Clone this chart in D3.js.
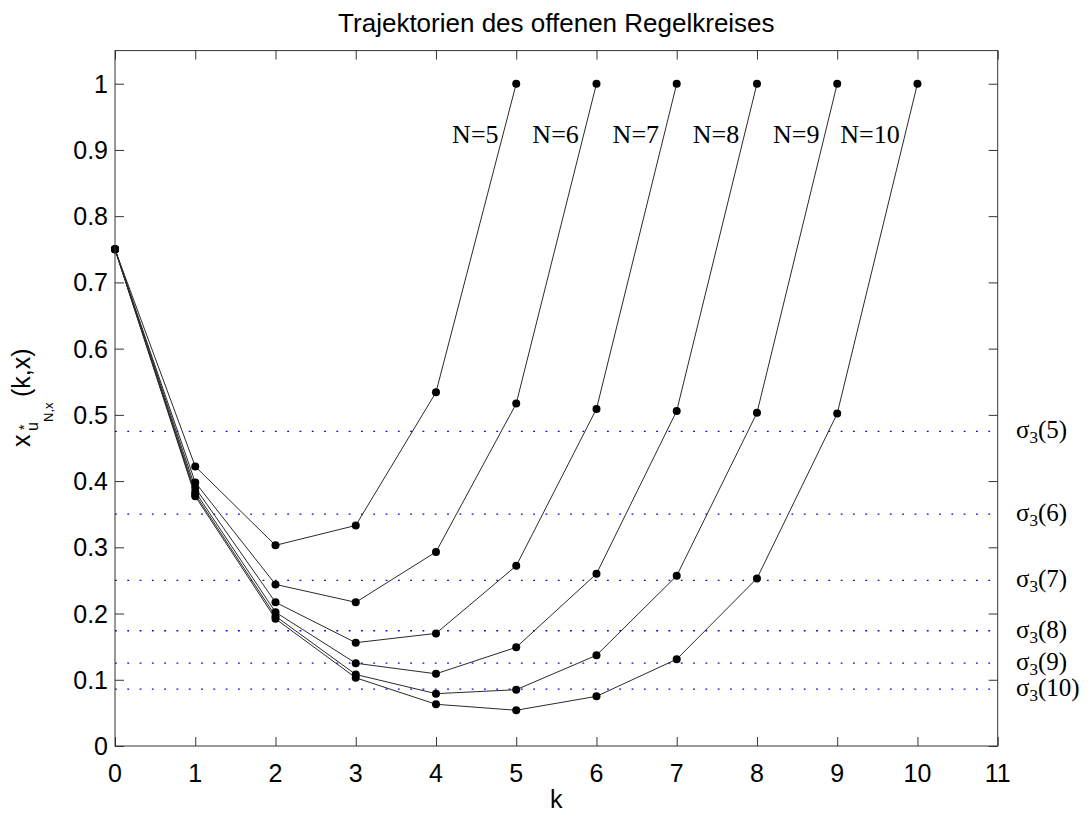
<!DOCTYPE html>
<html>
<head>
<meta charset="utf-8">
<script src="https://cdn.jsdelivr.net/npm/d3@7"></script>
<style>
  html, body { margin: 0; padding: 0; background: #fff; }
  svg { display: block; }
  .sans { font-family: Arial, "Liberation Sans", sans-serif; }
  .serif { font-family: "Times New Roman", "Liberation Serif", serif; }
</style>
</head>
<body>
<svg id="chart" width="1092" height="816"></svg>
<script>
// Open-loop trajectories x*_{u_N,x}(k,x) for horizons N = 5..10
const horizons = [5, 6, 7, 8, 9, 10];
const traj5  = [0.75, 0.422, 0.303, 0.333, 0.534, 1.0];
const traj6  = [0.75, 0.398, 0.244, 0.217, 0.293, 0.517, 1.0];
const traj7  = [0.75, 0.390, 0.217, 0.156, 0.170, 0.272, 0.509, 1.0];
const traj8  = [0.75, 0.384, 0.202, 0.125, 0.109, 0.149, 0.260, 0.506, 1.0];
const traj9  = [0.75, 0.380, 0.196, 0.108, 0.079, 0.085, 0.137, 0.257, 0.503, 1.0];
const traj10 = [0.75, 0.377, 0.192, 0.103, 0.063, 0.054, 0.075, 0.131, 0.253, 0.502, 1.0];
const trajectories = [traj5, traj6, traj7, traj8, traj9, traj10];

// Threshold levels sigma_3(N)
const sigmaLevels = [0.475, 0.350, 0.250, 0.174, 0.125, 0.086];

// Axis ticks
const xTicks = [0, 1, 2, 3, 4, 5, 6, 7, 8, 9, 10, 11];
const yTicks = [0, 0.1, 0.2, 0.3, 0.4, 0.5, 0.6, 0.7, 0.8, 0.9, 1];
const yTickLabels = ["0", "0.1", "0.2", "0.3", "0.4", "0.5", "0.6", "0.7", "0.8", "0.9", "1"];

const titleText = "Trajektorien des offenen Regelkreises";

const svg = d3.select("#chart");
const plotL = 115, plotR = 997.7, plotT = 50.6, plotB = 746;

const x = d3.scaleLinear().domain([0, 11]).range([plotL, plotR]);
const y = d3.scaleLinear().domain([0, 1.05]).range([plotB, plotT]);

// Dotted threshold lines
svg.append("g")
  .selectAll("line")
  .data(sigmaLevels)
  .join("line")
  .attr("x1", x(0)).attr("x2", x(11))
  .attr("y1", d => y(d)).attr("y2", d => y(d))
  .attr("stroke", "#0000ff")
  .attr("stroke-width", 1.3)
  .attr("stroke-dasharray", "1.8,10.5");

// Trajectory lines and markers
const line = d3.line().x((d, i) => x(i)).y(d => y(d));
const gTraj = svg.append("g");
trajectories.forEach(t => {
  gTraj.append("path")
    .attr("d", line(t))
    .attr("fill", "none")
    .attr("stroke", "#2a2a2a")
    .attr("stroke-width", 1);
});
trajectories.forEach(t => {
  gTraj.append("g")
    .selectAll("circle")
    .data(t)
    .join("circle")
    .attr("cx", (d, i) => x(i))
    .attr("cy", d => y(d))
    .attr("r", 4)
    .attr("fill", "#000");
});

// Frame with inward ticks on all four sides
const tickLen = 9;
svg.append("rect")
  .attr("x", plotL).attr("y", plotT)
  .attr("width", plotR - plotL).attr("height", plotB - plotT)
  .attr("fill", "none").attr("stroke", "#333").attr("stroke-width", 1);

const axB = d3.axisBottom(x).tickValues(xTicks).tickSize(-tickLen).tickFormat("");
const axT = d3.axisTop(x).tickValues(xTicks).tickSize(-tickLen).tickFormat("");
const axL = d3.axisLeft(y).tickValues(yTicks).tickSize(-tickLen).tickFormat("");
const axR = d3.axisRight(y).tickValues(yTicks).tickSize(-tickLen).tickFormat("");
[[axB, `translate(0,${plotB})`], [axT, `translate(0,${plotT})`],
 [axL, `translate(${plotL},0)`], [axR, `translate(${plotR},0)`]].forEach(([ax, tr]) => {
  const g = svg.append("g").attr("transform", tr).call(ax);
  g.select(".domain").remove();
  g.selectAll(".tick line").attr("stroke", "#333");
});

// Tick labels
svg.append("g").attr("class", "sans")
  .selectAll("text")
  .data(xTicks)
  .join("text")
  .attr("x", d => x(d))
  .attr("y", 782)
  .attr("text-anchor", "middle")
  .attr("font-size", 25)
  .text(d => d);

svg.append("g").attr("class", "sans")
  .selectAll("text")
  .data(yTicks)
  .join("text")
  .attr("x", 108)
  .attr("y", d => y(d) + 9)
  .attr("text-anchor", "end")
  .attr("font-size", 25)
  .text((d, i) => yTickLabels[i]);

// Title
svg.append("text").attr("class", "sans")
  .attr("x", (plotL + plotR) / 2).attr("y", 32)
  .attr("text-anchor", "middle")
  .attr("font-size", 26)
  .text(titleText);

// x-axis label
svg.append("text").attr("class", "sans")
  .attr("x", (plotL + plotR) / 2).attr("y", 808)
  .attr("text-anchor", "middle")
  .attr("font-size", 25)
  .text("k");

// y-axis label: x^*_{u_{N,x}} (k,x)
const yl = svg.append("g").attr("class", "sans")
  .attr("transform", "translate(30,447) rotate(-90)");
yl.append("text").attr("x", 0).attr("y", 0).attr("font-size", 25).text("x");
yl.append("text").attr("x", 17).attr("y", -1).attr("font-size", 14).text("*");
yl.append("text").attr("x", 16).attr("y", 8).attr("font-size", 16).text("u");
yl.append("text").attr("x", 25).attr("y", 23).attr("font-size", 13).text("N,x");
yl.append("text").attr("x", 50).attr("y", 0).attr("font-size", 25).text("(k,x)");

// Horizon labels N=...
svg.append("g").attr("class", "serif")
  .selectAll("text")
  .data(horizons)
  .join("text")
  .attr("x", d => x(d - 0.22))
  .attr("y", y(0.911))
  .attr("text-anchor", "end")
  .attr("font-size", 26)
  .text(d => "N=" + d);

// sigma_3(N) labels at the right
const sl = svg.append("g").attr("class", "serif")
  .selectAll("text")
  .data(sigmaLevels)
  .join("text")
  .attr("x", 1016)
  .attr("y", d => y(d) + 7)
  .attr("font-size", 25);
sl.append("tspan").text("σ");
sl.append("tspan").attr("font-size", 17).attr("dy", 5).text("3");
sl.append("tspan").attr("dy", -5).text((d, i) => "(" + horizons[i] + ")");
</script>
</body>
</html>
